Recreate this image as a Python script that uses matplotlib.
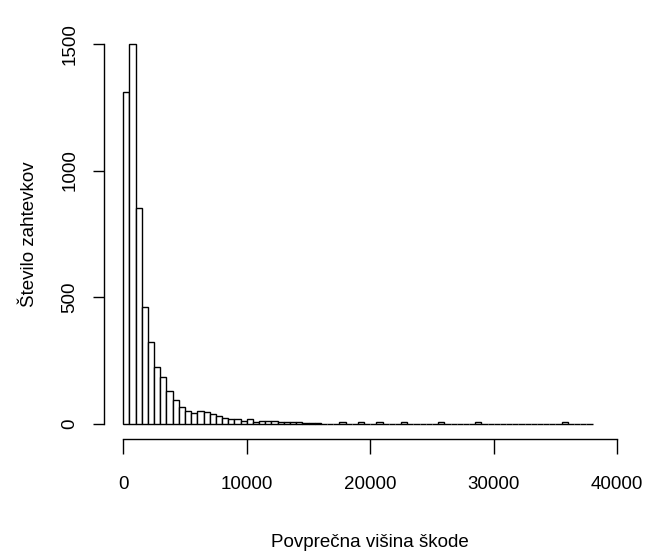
import matplotlib
matplotlib.use("Agg")
import matplotlib.pyplot as plt
from matplotlib import font_manager
import numpy as np

names = {f.name for f in font_manager.fontManager.ttflist}
family = 'Liberation Sans Narrow' if 'Liberation Sans Narrow' in names else 'Liberation Sans'
plt.rcParams['font.family'] = [family, 'DejaVu Sans']

# Histogram data: counts per bin of width 500, from 0 to 38000
bin_start = 0
bin_width = 500
counts = [1310, 1500, 853, 460, 324, 225, 183, 130, 93, 67,
          51, 43, 50, 44, 37, 30, 22, 17, 17, 10,
          18, 7, 12, 12, 12, 5, 5, 5, 5, 4,
          4, 4, 0, 0, 0, 5, 0, 0, 5, 0,
          0, 5, 0, 0, 0, 5, 0, 0, 0, 0,
          0, 5, 0, 0, 0, 0, 0, 5, 0, 0,
          0, 0, 0, 0, 0, 0, 0, 0, 0, 0,
          0, 5, 0, 0, 0, 0]
x_ticks = [0, 10000, 20000, 30000, 40000]
y_ticks = [0, 500, 1000, 1500]
x_label = "Povprečna višina škode"
y_label = "Število zahtevkov"

edges = bin_start + bin_width * np.arange(len(counts))

W, H = 646, 555
fig = plt.figure(figsize=(W / 100, H / 100), dpi=100)
left_px, right_px, top_px, bottom_px = 103.5, 637.0, 28.8, 438.8
ax = fig.add_axes([left_px / W, 1 - bottom_px / H,
                   (right_px - left_px) / W, (bottom_px - top_px) / H])

ax.bar(edges, counts, width=bin_width, align='edge',
       facecolor='white', edgecolor='black', linewidth=1.0)

ax.set_xlim(-1600, 41600)
ax.set_ylim(-60, 1560)

for s in ['top', 'right']:
    ax.spines[s].set_visible(False)
ax.spines['left'].set_bounds(0, 1500)
ax.spines['bottom'].set_bounds(0, 40000)
ax.spines['left'].set_linewidth(1.0)
ax.spines['bottom'].set_linewidth(1.0)

fs = 16.5 if family.endswith('Narrow') else 13.5

ax.set_xticks(x_ticks)
ax.set_xticklabels([str(v) for v in x_ticks])
ax.set_yticks(y_ticks)
ax.set_yticklabels([str(v) for v in y_ticks], rotation=90, va='center')

ax.tick_params(axis='both', direction='out', width=1.0,
               labelsize=fs, colors='black')
ax.tick_params(axis='x', length=10.5, pad=16)
ax.tick_params(axis='y', length=8, pad=10)

ax.set_xlabel(x_label, fontsize=fs, labelpad=30)
ax.set_ylabel(y_label, fontsize=fs, labelpad=17)

fig.savefig("out.png", dpi=100, facecolor='white')
